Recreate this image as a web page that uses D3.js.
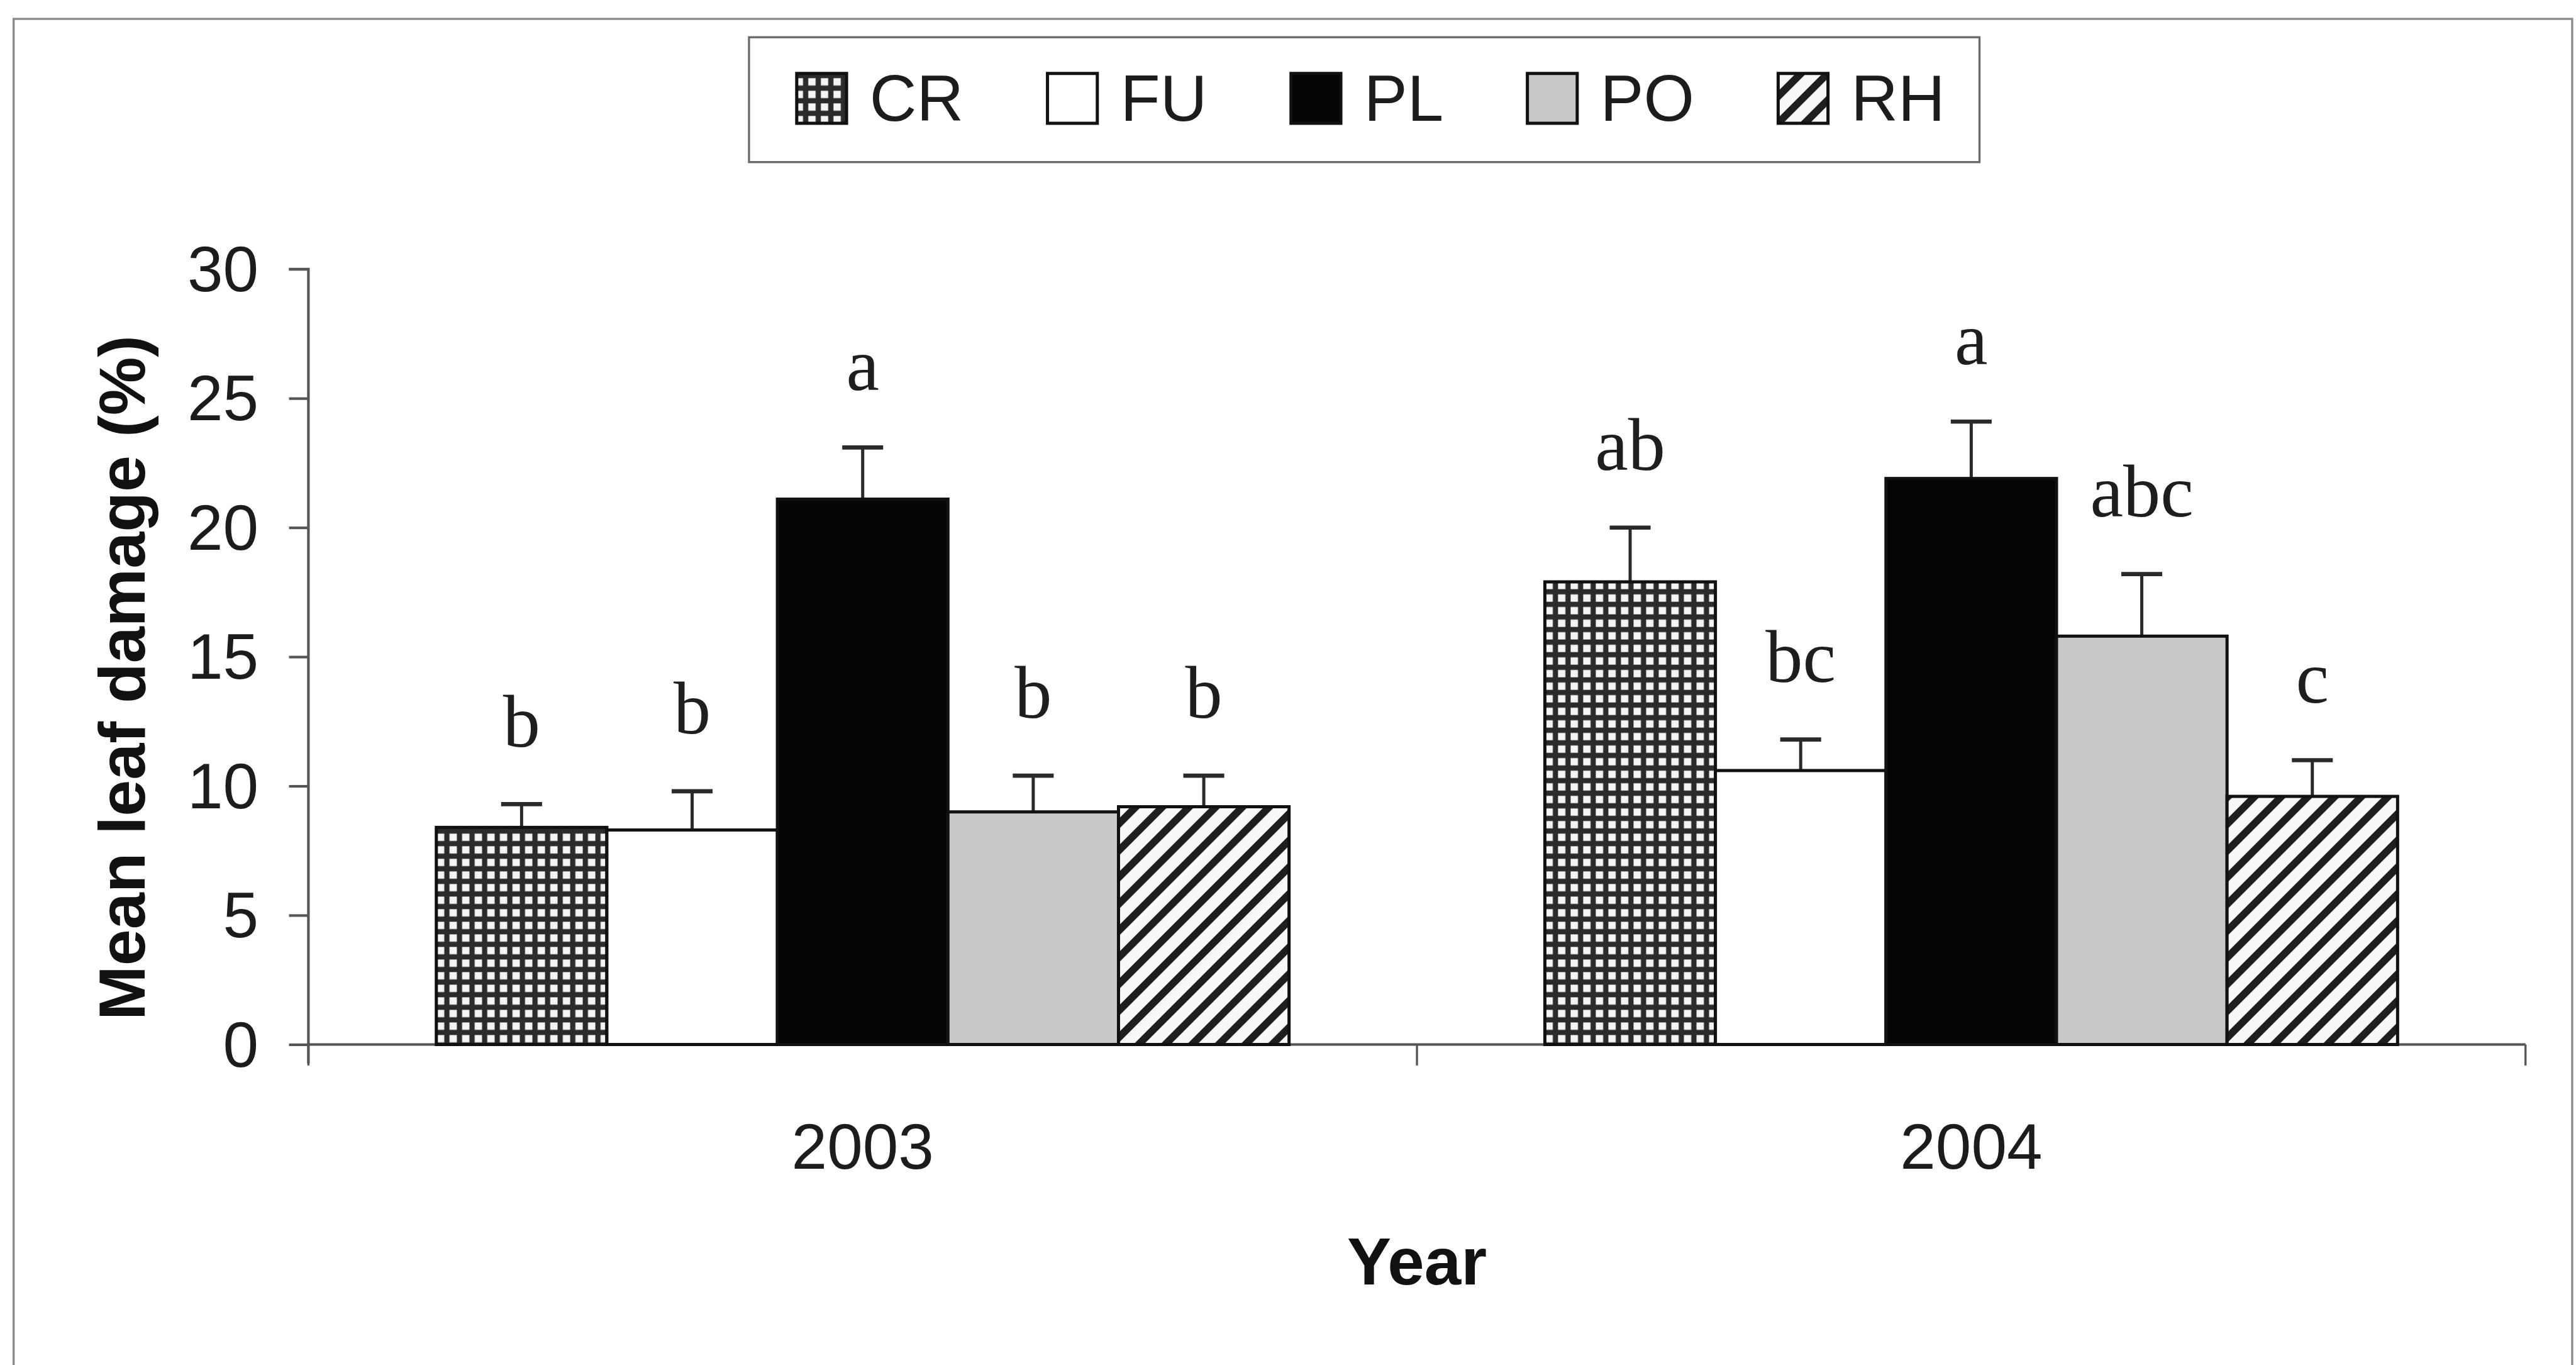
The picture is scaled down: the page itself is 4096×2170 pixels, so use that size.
<!DOCTYPE html>
<html>
<head>
<meta charset="utf-8">
<script src="https://cdn.jsdelivr.net/npm/d3@7"></script>
<style>
  html, body { margin: 0; padding: 0; background: #ffffff; }
  svg { display: block; }
</style>
</head>
<body>
<div id="chart"></div>
<script>
// ---- Data ----
const years = ["2003", "2004"];
const treatments = ["CR", "FU", "PL", "PO", "RH"];
const mean2003 = [8.4, 8.3, 21.1, 9.0, 9.2];
const se2003 = [0.9, 1.5, 2.0, 1.4, 1.2];
const mean2004 = [17.9, 10.6, 21.9, 15.8, 9.6];
const se2004 = [2.1, 1.2, 2.2, 2.4, 1.4];
const letters2003 = ["b", "b", "a", "b", "b"];
const letters2004 = ["ab", "bc", "a", "abc", "c"];
const yTicks = [0, 5, 10, 15, 20, 25, 30];
const yLabel = "Mean leaf damage (%)";
const xLabel = "Year";

// build rows for drawing
const byYear = {
  "2003": { mean: mean2003, se: se2003, letters: letters2003 },
  "2004": { mean: mean2004, se: se2004, letters: letters2004 }
};
const rows = [];
years.forEach(yr => treatments.forEach((t, i) => rows.push({
  year: yr, trt: t, mean: byYear[yr].mean[i], se: byYear[yr].se[i], letter: byYear[yr].letters[i]
})));

// ---- Layout (reference pixel space, scaled by 0.834) ----
const S = 0.834;
const W = 4096, H = 2170;
const SANS = "'Liberation Sans', Arial, Helvetica, sans-serif";
const SERIF = "'Liberation Serif', 'Times New Roman', Times, serif";

const svg = d3.select("#chart").append("svg")
  .attr("width", W).attr("height", H)
  .attr("viewBox", `0 0 ${W} ${H}`);
svg.append("rect").attr("width", W).attr("height", H).attr("fill", "#ffffff");

const defs = svg.append("defs");
// CR: dense grid (white squares on dark lines)
const pCR = defs.append("pattern").attr("id", "pat-CR")
  .attr("patternUnits", "userSpaceOnUse").attr("width", 24).attr("height", 24);
pCR.append("rect").attr("width", 24).attr("height", 24).attr("fill", "#2b2b2b");
pCR.append("rect").attr("x", 5).attr("y", 5).attr("width", 14).attr("height", 14).attr("fill", "#f4f4f4");
// RH: diagonal stripes "/"
const pRH = defs.append("pattern").attr("id", "pat-RH")
  .attr("patternUnits", "userSpaceOnUse").attr("width", 36).attr("height", 36)
  .attr("patternTransform", "rotate(45)");
pRH.append("rect").attr("width", 36).attr("height", 36).attr("fill", "#f8f8f8");
pRH.append("rect").attr("x", 0).attr("width", 14).attr("height", 36).attr("fill", "#1e1e1e");

const fillFor = {
  CR: "url(#pat-CR)",
  FU: "#ffffff",
  PL: "#050505",
  PO: "#c9c9c9",
  RH: "url(#pat-RH)"
};

const g = svg.append("g").attr("transform", `scale(${S})`);

// outer frame of the chart (scan border)
g.append("rect")
  .attr("x", 26).attr("y", 36).attr("width", 4878).attr("height", 2700)
  .attr("fill", "none").attr("stroke", "#8a8a8a").attr("stroke-width", 4);

// scales
const y = d3.scaleLinear().domain([0, 30]).range([1991, 513]);
const x0 = d3.scaleBand().domain(years).range([588, 4815]).paddingInner(0).paddingOuter(0);
const x1 = d3.scaleBand().domain(treatments).range([0, x0.bandwidth()])
  .paddingOuter(0.75).paddingInner(0);

// y axis
const yAxis = d3.axisLeft(y).tickValues(yTicks).tickSize(37).tickPadding(58).tickFormat(d3.format("d"));
const yg = g.append("g").attr("transform", "translate(588,0)").call(yAxis);
yg.select(".domain").attr("stroke", "#555").attr("stroke-width", 5)
  .attr("d", `M-37,${y(30)}H0V${y(0) + 36}`);
yg.selectAll(".tick line").attr("stroke", "#555").attr("stroke-width", 5);
yg.selectAll(".tick text")
  .attr("font-family", SANS).attr("font-size", 122).attr("fill", "#1c1c1c").attr("dy", "0.34em");

// x axis
const xAxis = d3.axisBottom(x0).tickSize(0).tickPadding(0);
const xg = g.append("g").attr("transform", `translate(0,${y(0)})`).call(xAxis);
xg.select(".domain").attr("stroke", "#555").attr("stroke-width", 5)
  .attr("d", `M${x0.range()[0]},0H${x0.range()[1]}`);
xg.selectAll(".tick text")
  .attr("font-family", SANS).attr("font-size", 122).attr("fill", "#1c1c1c")
  .attr("dy", 0).attr("y", 237);
// boundary tick marks between categories
const bounds = years.map(d => x0(d)).concat([x0(years[years.length - 1]) + x0.bandwidth()]);
xg.selectAll("line.bound").data(bounds).enter().append("line")
  .attr("class", "bound")
  .attr("x1", d => d).attr("x2", d => d).attr("y1", 0).attr("y2", 40)
  .attr("stroke", "#555").attr("stroke-width", 4);

// axis titles
g.append("text")
  .attr("transform", `translate(${276},${1292}) rotate(-90)`)
  .attr("text-anchor", "middle")
  .attr("font-family", SANS).attr("font-weight", "bold").attr("font-size", 125)
  .attr("fill", "#111")
  .text(yLabel);
g.append("text")
  .attr("x", (x0.range()[0] + x0.range()[1]) / 2).attr("y", 2448)
  .attr("text-anchor", "middle")
  .attr("font-family", SANS).attr("font-weight", "bold").attr("font-size", 126)
  .attr("fill", "#111")
  .text(xLabel);

// bars
const groups = g.append("g").selectAll("g").data(years).enter().append("g")
  .attr("transform", d => `translate(${x0(d)},0)`);
const bars = groups.selectAll("g.bar").data(d => rows.filter(r => r.year === d)).enter()
  .append("g").attr("class", "bar");

// error bars (upper only)
bars.append("line")
  .attr("x1", d => x1(d.trt) + x1.bandwidth() / 2)
  .attr("x2", d => x1(d.trt) + x1.bandwidth() / 2)
  .attr("y1", d => y(d.mean))
  .attr("y2", d => y(d.mean + d.se))
  .attr("stroke", "#2a2a2a").attr("stroke-width", 6);
bars.append("line")
  .attr("x1", d => x1(d.trt) + x1.bandwidth() / 2 - 39)
  .attr("x2", d => x1(d.trt) + x1.bandwidth() / 2 + 39)
  .attr("y1", d => y(d.mean + d.se))
  .attr("y2", d => y(d.mean + d.se))
  .attr("stroke", "#2a2a2a").attr("stroke-width", 8);

bars.append("rect")
  .attr("x", d => x1(d.trt))
  .attr("y", d => y(d.mean))
  .attr("width", x1.bandwidth())
  .attr("height", d => y(0) - y(d.mean))
  .attr("fill", d => fillFor[d.trt])
  .attr("stroke", "#111").attr("stroke-width", 6);

// significance letters
bars.append("text")
  .attr("x", d => x1(d.trt) + x1.bandwidth() / 2)
  .attr("y", d => y(d.mean + d.se) - 110)
  .attr("text-anchor", "middle")
  .attr("font-family", SERIF).attr("font-size", 142).attr("fill", "#1e1e1e")
  .text(d => d.letter);

// legend
g.append("rect")
  .attr("x", 1428).attr("y", 71).attr("width", 2346).attr("height", 238)
  .attr("fill", "#ffffff").attr("stroke", "#6a6a6a").attr("stroke-width", 4);
let lx = 1519;
treatments.forEach(t => {
  g.append("rect")
    .attr("x", lx).attr("y", 140).attr("width", 95).attr("height", 95)
    .attr("fill", fillFor[t]).attr("stroke", "#111").attr("stroke-width", 6);
  const txt = g.append("text")
    .attr("x", lx + 95 + 44).attr("y", 230)
    .attr("font-family", SANS).attr("font-size", 124).attr("fill", "#1c1c1c")
    .text(t);
  const w = txt.node().getComputedTextLength();
  lx = lx + 95 + 44 + w + 160;
});
</script>
</body>
</html>
